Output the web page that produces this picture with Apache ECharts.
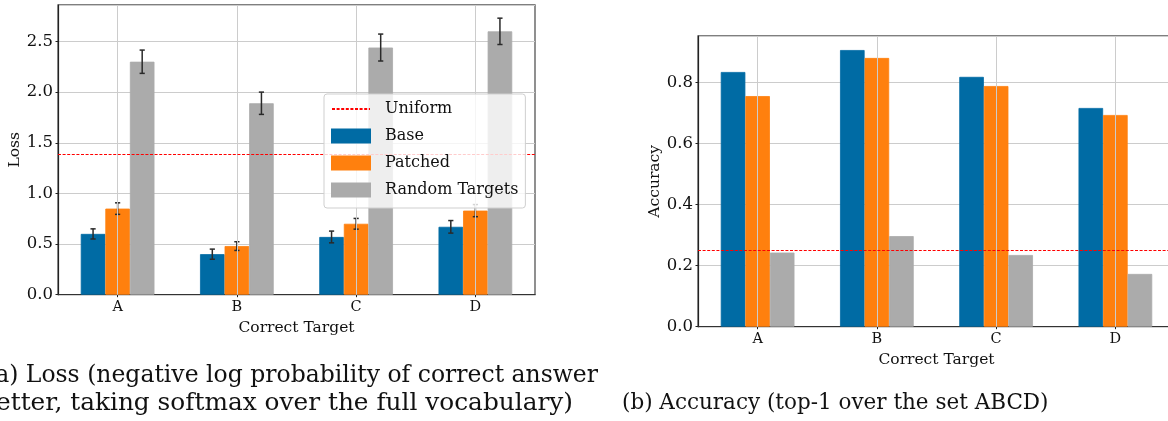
<!DOCTYPE html>
<html><head><meta charset="utf-8">
<script src="https://cdn.jsdelivr.net/npm/echarts@6/dist/echarts.min.js"></script>
<style>html,body{margin:0;padding:0;background:#fff}#c{width:1168px;height:421px}</style>
</head><body><div id="c"></div><script>
// ---- data ----
const categories = ['A', 'B', 'C', 'D'];
const seriesNames = ['Base', 'Patched', 'Random Targets'];
const uniformName = 'Uniform';
const lossBase = [0.60, 0.40, 0.57, 0.67];
const lossPatched = [0.85, 0.48, 0.70, 0.83];
const lossRandom = [2.30, 1.89, 2.44, 2.60];
const lossBaseErr = [0.05, 0.05, 0.058, 0.062];
const lossPatchedErr = [0.057, 0.043, 0.053, 0.06];
const lossRandomErr = [0.115, 0.11, 0.133, 0.13];
const accBase = [0.835, 0.907, 0.819, 0.717];
const accPatched = [0.756, 0.881, 0.789, 0.694];
const accRandom = [0.243, 0.297, 0.235, 0.173];
const lossUniform = 1.386;
const accUniform = 0.25;
const lossAxisMax = 2.86, lossInterval = 0.5;
const accAxisMax = 0.953, accInterval = 0.2;
const captionA1 = '(a) Loss (negative log probability of correct answer';
const captionA2 = 'letter, taking softmax over the full vocabulary)';
const captionB = '(b) Accuracy (top-1 over the set ABCD)';
const xName = 'Correct Target';
const lossName = 'Loss';
const accName = 'Accuracy';

// ---- style ----
const COLORS = ['#006ba4', '#ff800e', '#ababab'];
const FONT = 'DejaVu Serif';
const BAR_FRAC = 0.206;
const GRID_COL = '#cccccc';

function yAxisCfg(gi, max, interval, name, gap) {
  return {
    type: 'value', gridIndex: gi, min: 0, max: max, interval: interval,
    name: name, nameLocation: 'middle', nameGap: gap, nameRotate: 90,
    nameTextStyle: { fontFamily: FONT, fontSize: 15.5, color: '#111' },
    axisLine: { show: true, lineStyle: { color: '#222', width: 1.2 } },
    axisTick: { show: true, length: 2.5, lineStyle: { color: '#222' } },
    axisLabel: { showMaxLabel: false, margin: 5, fontFamily: FONT, fontSize: 16.5, color: '#111',
      formatter: v => v.toFixed(1) },
    splitLine: { show: true, lineStyle: { color: GRID_COL, width: 1 } }
  };
}
function xAxisCfg(gi, gap) {
  return {
    type: 'category', gridIndex: gi, data: categories, boundaryGap: true,
    name: xName, nameLocation: 'middle', nameGap: gap,
    nameTextStyle: { fontFamily: FONT, fontSize: 15.5, color: '#111', verticalAlign: 'top' },
    axisLine: { show: true, lineStyle: { color: '#333', width: 1.2 } },
    axisTick: { show: true, alignWithLabel: true, length: 2.5, lineStyle: { color: '#222' } },
    axisLabel: { margin: 5, fontFamily: FONT, fontSize: 14.5, color: '#111' },
    splitLine: { show: false }
  };
}
function barSeries(gi, idx, values) {
  return {
    type: 'bar', name: seriesNames[idx], xAxisIndex: gi, yAxisIndex: gi,
    data: values, barWidth: (BAR_FRAC * 100) + '%', barGap: '0%',
    itemStyle: { color: COLORS[idx], borderColor: COLORS[idx], borderWidth: 0.8 }, z: 2, silent: true
  };
}
function errSeries(gi, idx, values, errs) {
  const off = idx - 1;
  return {
    type: 'custom', xAxisIndex: gi, yAxisIndex: gi, z: 4, silent: true,
    data: values.map((v, i) => [i, v - errs[i], v + errs[i]]),
    encode: { x: 0, y: [1, 2] },
    renderItem: function (params, api) {
      const i = api.value(0);
      const lo = api.coord([i, api.value(1)]);
      const hi = api.coord([i, api.value(2)]);
      const band = api.size([1, 0])[0];
      const x = lo[0] + off * band * BAR_FRAC;
      const cap = 2.6;
      const st = { stroke: '#2a2a2a', lineWidth: 1.5, fill: null };
      return { type: 'group', children: [
        { type: 'line', shape: { x1: x, y1: lo[1], x2: x, y2: hi[1] }, style: st },
        { type: 'line', shape: { x1: x - cap, y1: lo[1], x2: x + cap, y2: lo[1] }, style: st },
        { type: 'line', shape: { x1: x - cap, y1: hi[1], x2: x + cap, y2: hi[1] }, style: st }
      ]};
    }
  };
}
function gridLinesSeries(gi) {
  return {
    type: 'line', xAxisIndex: gi, yAxisIndex: gi, data: [], z: 1, silent: true,
    markLine: { silent: true, symbol: 'none', label: { show: false },
      lineStyle: { color: GRID_COL, type: 'solid', width: 1 },
      emphasis: { disabled: true },
      data: categories.map(c => ({ xAxis: c })) }
  };
}
function uniformSeries(gi, val) {
  return {
    type: 'line', name: uniformName, xAxisIndex: gi, yAxisIndex: gi, data: [], z: 5,
    symbol: 'none', silent: true, color: '#ff0000',
    lineStyle: { color: '#ff0000', type: [3, 1.6], width: 1 },
    markLine: { silent: true, symbol: 'none', label: { show: false },
      lineStyle: { color: '#ff0000', type: [3, 1.6], width: 1 },
      emphasis: { disabled: true },
      data: [{ yAxis: val }] }
  };
}

const chart = echarts.init(document.getElementById('c'), null, { renderer: 'canvas' });
const gridStyle = { show: true, borderColor: '#555', borderWidth: 1.3, backgroundColor: '#fff', containLabel: false, outerBoundsMode: 'none' };
chart.setOption({
  animation: false,
  backgroundColor: '#fff',
  textStyle: { fontFamily: FONT },
  grid: [
    Object.assign({ left: 58, top: 5, width: 477, height: 289.7 }, gridStyle),
    Object.assign({ left: 698, top: 36, right: -7, height: 290.7 }, gridStyle)
  ],
  xAxis: [xAxisCfg(0, 18), xAxisCfg(1, 16)],
  yAxis: [yAxisCfg(0, lossAxisMax, lossInterval, lossName, 31), yAxisCfg(1, accAxisMax, accInterval, accName, 32)],
  legend: {
    left: 324, top: 94, orient: 'vertical', z: 10,
    data: [{ name: uniformName, itemStyle: { opacity: 0 } }].concat(seriesNames.map(n => ({ name: n, icon: 'rect' }))),
    itemWidth: 38, itemHeight: 13, itemGap: 11,
    padding: [7, 7, 10, 7],
    backgroundColor: 'rgba(255,255,255,0.8)', borderColor: '#cfcfcf', borderWidth: 1, borderRadius: 3,
    textStyle: { fontFamily: FONT, fontSize: 16, color: '#111', padding: [0, 0, 0, 10] },
    selectedMode: false
  },
  series: [
    gridLinesSeries(0), gridLinesSeries(1),
    barSeries(0, 0, lossBase), barSeries(0, 1, lossPatched), barSeries(0, 2, lossRandom),
    errSeries(0, 0, lossBase, lossBaseErr), errSeries(0, 1, lossPatched, lossPatchedErr), errSeries(0, 2, lossRandom, lossRandomErr),
    uniformSeries(0, lossUniform),
    barSeries(1, 0, accBase), barSeries(1, 1, accPatched), barSeries(1, 2, accRandom),
    uniformSeries(1, accUniform)
  ],
  graphic: [
    { type: 'text', right: 1168 - 598, top: 364, style: { text: captionA1, fontFamily: FONT, fontSize: 23.5, fill: '#111', textAlign: 'right' } },
    { type: 'text', right: 1168 - 573, top: 391, style: { text: captionA2, fontFamily: FONT, fontSize: 24.8, fill: '#111', textAlign: 'right' } },
    { type: 'text', left: 622, top: 392, style: { text: captionB, fontFamily: FONT, fontSize: 21.5, fill: '#111' } }
  ]
});
</script></body></html>
